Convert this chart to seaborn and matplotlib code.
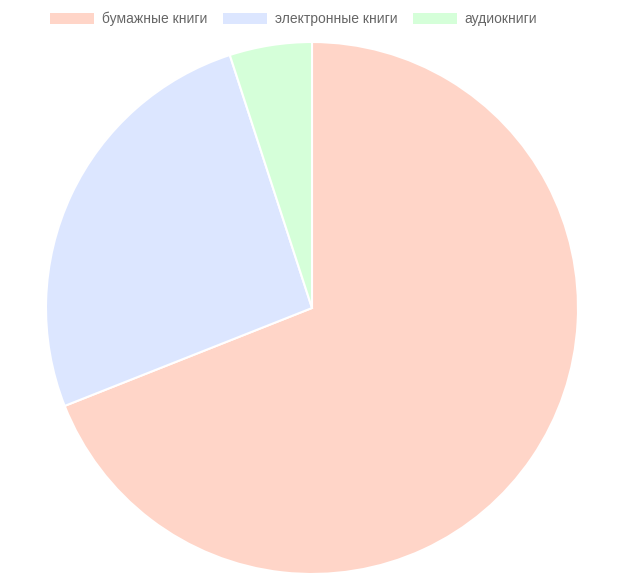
import matplotlib.pyplot as plt
import seaborn as sns

from matplotlib.patches import Patch

# Данные графика.
labels = ['бумажные книги', 'электронные книги', 'аудиокниги']
values = [69, 26, 5]
colors = ['#FFD5C8', '#DCE6FF', '#D5FFD9']

sns.set_style('white')
plt.rcParams['font.family'] = ['Liberation Sans', 'DejaVu Sans']

figure = plt.figure(figsize=(6.25, 5.77), dpi=100)
ax = figure.add_axes([0.0736, 0.0052, 0.8512, 0.922])

palette = sns.color_palette(colors)

# Строим круговую диаграмму по часовой стрелке от 12 часов.
ax.pie(
    values,
    colors=palette,
    startangle=90,
    counterclock=False,
    radius=1,
    wedgeprops={'edgecolor': 'white', 'linewidth': 1.5}
)
ax.set_xlim(-1, 1)
ax.set_ylim(-1, 1)
ax.set_aspect('equal')
ax.axis('off')

# Легенда сверху.
handles = [Patch(facecolor=c, edgecolor='none') for c in palette]
figure.legend(
    handles=handles,
    labels=labels,
    loc='center',
    bbox_to_anchor=(0.4696, 0.967),
    ncol=3,
    frameon=False,
    fontsize=10,
    labelcolor='#666666',
    handlelength=3.17,
    handleheight=0.86,
    handletextpad=0.58,
    columnspacing=1.1,
    borderpad=0,
    borderaxespad=0
)

figure.savefig('out.png', dpi=100)
